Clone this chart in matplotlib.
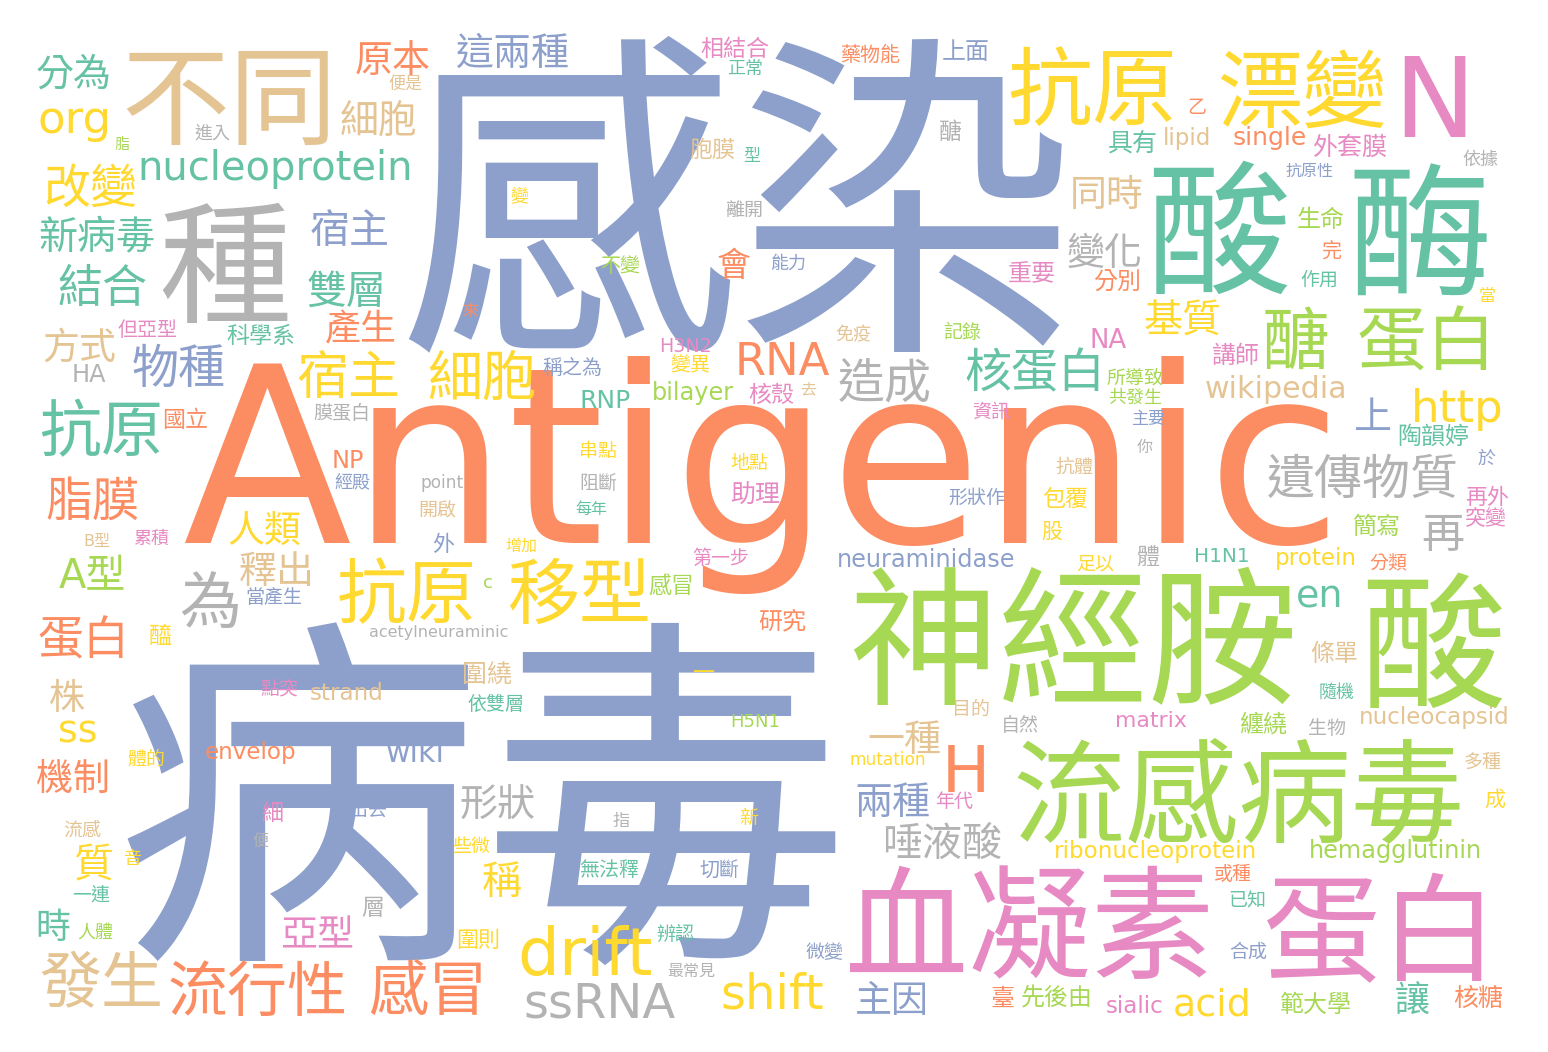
import matplotlib
matplotlib.use("Agg")
import matplotlib.pyplot as plt

plt.rcParams['font.family'] = ['DejaVu Sans', 'Noto Sans CJK TC']

# Set2 palette used by the word cloud
palette = {
    "T": "#66c2a5", "O": "#fc8d62", "B": "#8da0cb", "P": "#e78ac3",
    "L": "#a6d854", "Y": "#ffd92f", "N": "#e5c494", "G": "#b3b3b3",
}

# word, centre x, centre y (image pixels), weight (em size in px), colour key
words = [
    "感染", "病毒", "Antigenic", "神經胺", "流感病毒", "血凝素", "蛋白", "酸", "酶", "不同",
    "種", "抗原", "漂變", "N", "醣", "蛋白", "抗原", "移型", "drift", "ssRNA",
    "發生", "流行性", "感冒", "抗原", "為", "shift", "H", "唾液酸", "兩種", "一種",
    "主因", "acid", "讓", "核糖", "範大學", "sialic", "先後由", "臺", "微變", "合成",
    "已知", "或種", "ribonucleoprotein", "hemagglutinin", "成", "多種", "纏繞", "生物", "nucleocapsid", "matrix",
    "自然", "目的", "mutation", "年代", "隨機", "條單", "en", "H1N1", "protein", "分類",
    "再", "簡寫", "突變", "再外", "遺傳物質", "於", "陶韻婷", "上", "http", "wikipedia",
    "講師", "當", "作用", "完", "生命", "抗原性", "依據", "外套膜", "single", "lipid",
    "乙", "具有", "同時", "變化", "重要", "分別", "基質", "NA", "記錄", "免疫",
    "醣", "上面", "藥物能", "相結合", "正常", "胞膜", "型", "離開", "會", "能力",
    "不變", "變", "來", "H3N2", "這兩種", "原本", "便是", "細胞", "分為", "org",
    "脂", "進入", "nucleoprotein", "改變", "新病毒", "宿主", "結合", "雙層", "產生", "但亞型",
    "科學系", "方式", "物種", "HA", "宿主", "國立", "膜蛋白", "NP", "經殿", "脂膜",
    "人類", "B型", "累積", "A型", "釋出", "當產生", "蛋白", "醯", "acetylneuraminic", "株",
    "點突", "strand", "ss", "體的", "envelop", "機制", "流感", "細", "出去", "便",
    "質", "音", "一連", "層", "時", "人體", "亞型", "細胞", "稱之為", "變異",
    "RNA", "RNP", "bilayer", "核殼", "去", "造成", "核蛋白", "所導致", "共發生", "資訊",
    "主要", "你", "抗體", "地點", "助理", "形狀作", "包覆", "股", "串點", "point",
    "阻斷", "開啟", "每年", "外", "增加", "第一步", "c", "感冒", "研究", "neuraminidase",
    "足以", "體", "形狀", "依雙層", "wiki", "圍繞", "一", "H5N1", "指", "新",
    "些微", "稱", "無法釋", "切斷", "圍則", "辨認", "最常見", "酸",
]
word_x = [
    737, 482, 762, 1073, 1238, 1030, 1381, 1219, 1420, 229,
    225, 1092, 1302, 1434, 1296, 1427, 407, 579, 585, 600,
    101, 258, 428, 101, 210, 772, 966, 942, 892, 904,
    892, 1212, 1412, 1478, 1316, 1135, 1057, 1003, 824, 1248,
    1247, 1233, 1156, 1395, 1495, 1483, 1263, 1327, 1434, 1151,
    1020, 971, 888, 954, 1337, 1334, 1320, 1222, 1316, 1388,
    1443, 1376, 1486, 1487, 1363, 1486, 1433, 1372, 1457, 1276,
    1235, 1487, 1319, 1331, 1321, 1310, 1480, 1350, 1270, 1187,
    1197, 1132, 1107, 1105, 1032, 1117, 1183, 1108, 962, 853,
    950, 966, 870, 735, 745, 712, 752, 744, 734, 788,
    620, 519, 470, 685, 513, 393, 405, 379, 74, 75,
    122, 212, 275, 90, 97, 350, 102, 347, 361, 148,
    261, 79, 179, 89, 348, 185, 342, 348, 352, 92,
    264, 97, 151, 92, 277, 274, 83, 160, 439, 67,
    279, 347, 78, 146, 251, 73, 82, 272, 368, 260,
    93, 132, 91, 373, 53, 95, 317, 482, 572, 690,
    782, 605, 693, 771, 808, 885, 1035, 1135, 1135, 991,
    1148, 1145, 1074, 749, 755, 977, 1065, 1052, 598, 442,
    598, 437, 591, 443, 521, 721, 488, 671, 782, 926,
    1095, 1148, 498, 496, 415, 487, 703, 755, 621, 749,
    471, 502, 609, 719, 478, 675, 691, 1433,
]
word_y = [
    195, 792, 449, 636, 791, 922, 927, 228, 230, 95,
    262, 87, 88, 95, 338, 338, 590, 590, 950, 999,
    980, 988, 988, 428, 600, 990, 768, 842, 800, 737,
    998, 1001, 998, 996, 1003, 1004, 996, 997, 951, 951,
    899, 873, 849, 849, 798, 761, 723, 727, 715, 719,
    724, 708, 759, 800, 691, 652, 593, 554, 556, 562,
    532, 525, 517, 496, 476, 457, 435, 415, 405, 387,
    354, 295, 279, 250, 218, 170, 158, 145, 136, 136,
    106, 141, 192, 250, 272, 281, 318, 338, 331, 333,
    130, 50, 53, 47, 68, 148, 155, 209, 263, 262,
    264, 194, 310, 345, 50, 58, 83, 119, 71, 116,
    143, 132, 165, 185, 234, 228, 285, 289, 327, 328,
    334, 345, 365, 373, 374, 418, 412, 459, 480, 498,
    528, 540, 537, 573, 569, 596, 637, 634, 631, 695,
    688, 691, 728, 758, 750, 777, 828, 812, 808, 840,
    862, 857, 893, 906, 925, 931, 932, 375, 366, 364,
    358, 398, 391, 393, 388, 380, 370, 376, 396, 410,
    418, 446, 466, 462, 492, 497, 497, 530, 450, 482,
    482, 509, 508, 543, 545, 557, 581, 584, 619, 558,
    562, 556, 802, 703, 751, 673, 672, 720, 820, 817,
    845, 880, 868, 868, 939, 933, 970, 640,
]
word_weight = [
    340, 368, 247, 150, 113, 123, 118, 145, 145, 108,
    133, 85, 85, 110, 68, 70, 70, 72, 66, 48,
    62, 60, 60, 62, 62, 48, 64, 40, 38, 37,
    37, 38, 35, 25, 24, 23, 24, 24, 19, 19,
    19, 19, 23, 24, 21, 19, 24, 19, 23, 22,
    19, 19, 17, 19, 18, 24, 38, 20, 23, 19,
    43, 24, 21, 22, 48, 18, 24, 38, 45, 30,
    24, 17, 19, 20, 24, 16, 18, 25, 25, 23,
    19, 25, 37, 38, 24, 24, 39, 26, 19, 18,
    23, 24, 20, 23, 18, 23, 17, 19, 34, 18,
    20, 18, 16, 19, 38, 38, 17, 39, 38, 45,
    15, 18, 40, 47, 39, 40, 45, 40, 36, 20,
    23, 37, 47, 24, 52, 23, 19, 24, 18, 47,
    37, 16, 18, 40, 38, 19, 46, 23, 16, 36,
    19, 23, 38, 19, 23, 37, 19, 22, 19, 16,
    40, 18, 19, 23, 35, 18, 37, 55, 20, 20,
    45, 25, 24, 23, 16, 47, 47, 19, 18, 19,
    17, 16, 19, 19, 25, 19, 23, 21, 19, 17,
    19, 19, 16, 22, 16, 19, 18, 23, 24, 24,
    19, 23, 38, 19, 30, 25, 22, 18, 17, 19,
    19, 40, 20, 20, 22, 19, 16, 146,
]
word_color = [
    "B", "B", "O", "L", "L", "P", "P", "T", "T", "N",
    "G", "Y", "Y", "P", "L", "L", "Y", "Y", "Y", "G",
    "N", "O", "O", "T", "G", "Y", "O", "G", "B", "N",
    "B", "Y", "T", "O", "L", "P", "L", "O", "B", "B",
    "T", "O", "Y", "L", "Y", "N", "L", "G", "N", "P",
    "G", "N", "Y", "P", "T", "N", "T", "T", "Y", "O",
    "G", "L", "P", "P", "G", "B", "T", "B", "Y", "N",
    "P", "Y", "T", "O", "L", "B", "G", "P", "O", "N",
    "O", "T", "N", "G", "P", "O", "Y", "P", "L", "N",
    "G", "B", "O", "P", "T", "N", "T", "G", "O", "B",
    "L", "Y", "O", "P", "B", "O", "N", "N", "T", "Y",
    "L", "G", "T", "Y", "T", "B", "T", "T", "O", "P",
    "T", "N", "B", "G", "Y", "O", "G", "O", "B", "O",
    "Y", "N", "P", "L", "N", "B", "O", "Y", "G", "N",
    "P", "N", "Y", "Y", "O", "O", "N", "P", "B", "G",
    "Y", "Y", "T", "G", "T", "L", "P", "Y", "B", "Y",
    "O", "T", "L", "P", "N", "G", "T", "L", "L", "P",
    "B", "G", "N", "Y", "P", "B", "Y", "Y", "Y", "G",
    "G", "N", "T", "B", "Y", "P", "L", "L", "O", "B",
    "Y", "G", "G", "T", "B", "N", "Y", "L", "G", "Y",
    "Y", "Y", "T", "B", "Y", "T", "G", "L",
]

W, H, DPI = 1548, 1052, 100
fig = plt.figure(figsize=(W / DPI, H / DPI), dpi=DPI, facecolor="white")
ax = fig.add_axes([0, 0, 1, 1])
ax.set_xlim(0, W)
ax.set_ylim(H, 0)
ax.axis("off")

# the baseline sits 0.38 em below the middle of the em box
for w, x, y, s, c in zip(words, word_x, word_y, word_weight, word_color):
    ax.text(x, y + 0.38 * s, w, fontsize=s * 72 / DPI, color=palette[c],
            ha="center", va="baseline")

fig.savefig("out.png", dpi=DPI, facecolor="white")
